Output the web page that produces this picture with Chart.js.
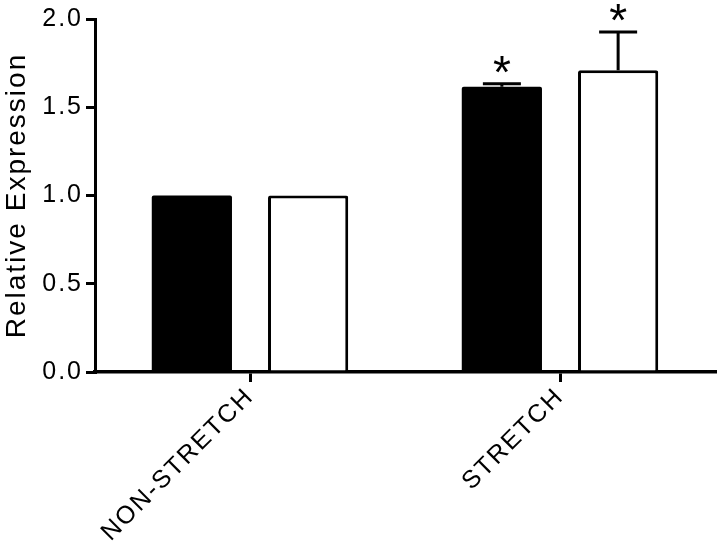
<!DOCTYPE html>
<html>
<head>
<meta charset="utf-8">
<script src="https://cdn.jsdelivr.net/npm/chart.js@4"></script>
<style>
  html, body { margin: 0; padding: 0; background: #fff; }
  #wrap { width: 719px; height: 542px; }
</style>
</head>
<body>
<div id="wrap"><canvas id="c" width="719" height="542"></canvas></div>
<script>
// ---- data ----
const categories = ['NON-STRETCH', 'STRETCH'];
const blackValues = [1.0, 1.616];
const whiteValues = [1.0, 1.709];
const blackErrors = [0, 0.017];
const whiteErrors = [0, 0.218];
const blackSignificant = [false, true];
const whiteSignificant = [false, true];
const yTickValues = [0, 0.5, 1.0, 1.5, 2.0];
const yTitle = 'Relative Expression';

const FONT = '"Liberation Sans", Arial, Helvetica, sans-serif';

const spacingPlugin = {
  id: 'spacing',
  beforeLayout(chart) { chart.ctx.letterSpacing = '2px'; },
  beforeDraw(chart) { chart.ctx.letterSpacing = '2px'; }
};

const errorPlugin = {
  id: 'errors',
  afterDatasetsDraw(chart) {
    const ctx = chart.ctx;
    const y = chart.scales.y;
    chart.data.datasets.forEach((ds, di) => {
      const meta = chart.getDatasetMeta(di);
      meta.data.forEach((bar, i) => {
        const v = ds.data[i];
        const e = ds.errors[i];
        const yTop = y.getPixelForValue(v + e);
        ctx.save();
        ctx.letterSpacing = '0px';
        if (e > 0) {
          ctx.strokeStyle = '#000';
          ctx.lineWidth = 3;
          ctx.beginPath();
          ctx.moveTo(bar.x, bar.y);
          ctx.lineTo(bar.x, yTop);
          ctx.moveTo(bar.x - 19, yTop);
          ctx.lineTo(bar.x + 19, yTop);
          ctx.stroke();
        }
        if (ds.significant[i]) {
          ctx.fillStyle = '#000';
          ctx.font = '46px ' + FONT;
          ctx.textAlign = 'center';
          ctx.textBaseline = 'alphabetic';
          const m = ctx.measureText('*');
          const target = yTop - 19;
          const base = target - (m.actualBoundingBoxDescent - m.actualBoundingBoxAscent) / 2;
          ctx.fillText('*', bar.x, base);
        }
        ctx.restore();
      });
    });
  }
};

new Chart(document.getElementById('c'), {
  type: 'bar',
  data: {
    labels: categories,
    datasets: [
      {
        data: blackValues, errors: blackErrors, significant: blackSignificant,
        backgroundColor: '#000', borderColor: '#000', borderWidth: 0,
        borderRadius: 2, borderSkipped: 'bottom',
        categoryPercentage: 0.75, barPercentage: 0.69
      },
      {
        data: whiteValues, errors: whiteErrors, significant: whiteSignificant,
        backgroundColor: '#fff', borderColor: '#000', borderWidth: 3,
        borderRadius: 2, borderSkipped: 'bottom',
        categoryPercentage: 0.75, barPercentage: 0.69
      }
    ]
  },
  options: {
    responsive: false,
    animation: false,
    devicePixelRatio: 1,
    layout: { padding: { top: 19, right: 4, left: 0, bottom: 0 } },
    plugins: { legend: { display: false }, tooltip: { enabled: false } },
    scales: {
      x: {
        type: 'category',
        offset: true,
        grid: { display: true, offset: false, drawOnChartArea: false, drawTicks: true,
                tickLength: 10, tickWidth: 3, tickColor: '#000', color: '#000', lineWidth: 3 },
        border: { display: true, color: '#000', width: 3.5 },
        ticks: { color: '#000', font: { family: FONT, size: 25 }, minRotation: 45, maxRotation: 45, padding: 0, autoSkip: false },
        afterFit(s) { s.height = 170; s.paddingLeft = 0; s.paddingRight = 0; }
      },
      y: {
        min: 0, max: 2.0,
        afterBuildTicks(s) { s.ticks = yTickValues.map(v => ({ value: v })); },
        grid: { display: true, drawOnChartArea: false, drawTicks: true,
                tickLength: 9, tickWidth: 3, tickColor: '#000', color: '#000', lineWidth: 3 },
        border: { display: true, color: '#000', width: 3 },
        ticks: { color: '#000', font: { family: FONT, size: 25 }, padding: 3,
                 callback: (v) => Number(v).toFixed(1) },
        title: { display: true, text: yTitle, color: '#000', font: { family: FONT, size: 28 },
                 padding: { top: 0, bottom: 0 } },
        afterFit(s) { s.width = 95; s.paddingTop = 0; s.paddingBottom = 0; }
      }
    }
  },
  plugins: [spacingPlugin, errorPlugin]
});
</script>
</body>
</html>
